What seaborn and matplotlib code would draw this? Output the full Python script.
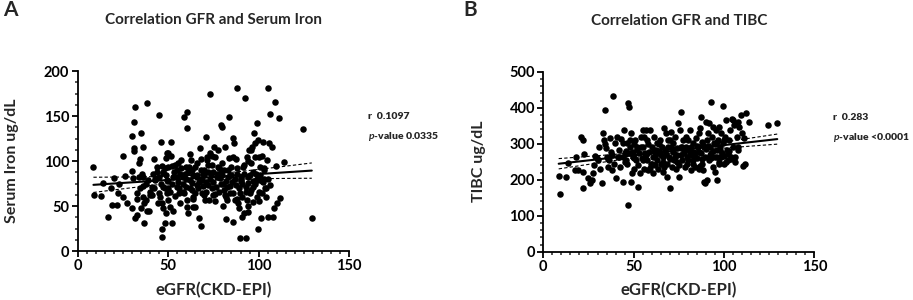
import numpy as np
import pandas as pd
import matplotlib
matplotlib.use("Agg")
import matplotlib.pyplot as plt
from matplotlib.ticker import MultipleLocator
import seaborn as sns

# ---- data (eGFR, serum iron) ----
iron_gfr = [8.7, 9.2, 12.7, 13.8, 16.6, 18.4, 18.8, 22, 22.2, 22.9, 25.3, 26, 25, 27, 20,
            30.2, 31.3, 31.7, 31.3, 31.3, 30.2, 30.8, 30.2, 31.7, 32.6, 33, 34, 34.4, 34.8, 34.4,
            35.3, 35.9, 35.9, 36.3, 36.7, 34.8, 37.6, 36.9, 38.3, 38.3, 39.6, 39, 40, 40.9, 40.9,
            41.8, 42.2, 42.9, 43.7, 44.3, 45, 45.9, 45.5, 46.4, 47, 47.4, 46.4, 47.4, 46.6, 46.8,
            48.3, 48.8, 48.7, 49.2, 50.1, 49.6, 49.2, 50.1, 50.1, 51, 51.4, 51.4, 52.5, 52, 52.9,
            53.6, 54.7, 55.6, 55.6, 56.2, 56.6, 56.6, 58, 58.6, 59.2, 59.8, 60.2, 60.6, 60.2, 60.6,
            61.2, 61.4, 62, 62.5, 63, 63.6, 64, 65, 65, 65.8, 66.1, 66.7, 67.2, 67.6, 68.1,
            68.5, 68.5, 69, 69.8, 70.4, 71, 71.3, 71.7, 72.2, 72.8, 73.2, 73.2, 73.7, 74.3, 74.6,
            75, 75.4, 76, 76.5, 76.9, 77.3, 77.8, 78.3, 78.7, 79.1, 79.6, 80.2, 80.5, 80.9, 81.5,
            81.6, 82, 82.4, 82.8, 83.3, 83.9, 83.9, 84.2, 84.6, 85.1, 86, 86, 86.4, 87, 87.3,
            87.5, 88.2, 88.2, 88.8, 89.3, 89.7, 89.7, 90.1, 90.6, 91, 91.2, 92, 92.5, 93, 93,
            93.4, 93.8, 94.3, 94.3, 94.9, 95.3, 95.6, 96.2, 96.7, 97.1, 97.5, 98, 98.6, 99, 99.3,
            99.5, 99.9, 99.9, 100.4, 100.8, 101.2, 101.7, 102.3, 102.6, 103, 103.6, 104.5, 105, 105.4, 106,
            106.3, 106.3, 107.2, 107.8, 108.5, 109, 109.4, 110, 111.5, 111.8, 114, 124.4, 129.4,
            45, 46, 47, 48, 48, 49, 50, 51, 52, 53, 54, 55, 56, 57, 58,
            59, 60, 61, 62, 63, 64, 65, 66, 67, 68, 69, 70, 71, 72, 73,
            74, 75, 76, 77, 78, 79, 80, 81, 82, 83, 84, 85, 86, 87, 88,
            89, 90, 91, 92, 93, 94, 95, 96, 97, 98, 99, 100, 101, 102, 103,
            104, 105, 42, 43, 38, 40, 36, 34, 33, 44, 52, 57, 62, 68, 74,
            80, 86, 92, 98, 102, 96, 94, 76, 82, 88, 94, 100, 104, 70, 64,
            58, 50, 45, 60, 66, 72, 78, 84, 90, 97, 103, 79, 71, 63, 55]
iron_val = [93.7, 62, 61, 76, 37.4, 70, 51, 51, 64, 74, 105.6, 83.7, 60, 53, 81,
            128, 143, 160, 115, 111, 89, 80.7, 47.4, 36.3, 40, 64, 97.4, 102, 130.7, 70,
            86, 115.9, 82.6, 60, 53, 47.4, 56.7, 31.5, 164, 44, 44, 79, 62, 71.5, 62,
            86, 102, 79, 93.7, 53, 151, 120.7, 60, 94.8, 87, 71.5, 53, 47.4, 24, 16,
            30.7, 42, 103, 108.5, 109, 79, 64, 56.7, 93.7, 49, 120.7, 105.6, 82.6, 31.5, 44.8,
            95.6, 71.5, 77, 97.4, 64, 53, 86, 82.6, 149, 86, 71.5, 154.8, 136.3, 56.7, 49,
            41.8, 93.7, 79, 101, 90, 60.4, 49, 49, 93.7, 73, 82.6, 69.6, 36.3, 115, 28,
            64, 79, 86, 90, 56.7, 127, 105, 101, 73.3, 56.7, 175, 109, 86, 95.5, 62,
            77, 116, 105, 71.5, 86, 93.7, 112, 66, 80.7, 140, 137.7, 50, 75, 90, 116,
            62, 35.5, 56.7, 71.5, 82.6, 149, 103, 64, 93.7, 77, 126, 32.6, 119.6, 56.7, 102,
            73, 181.5, 86, 53, 47.4, 14, 64, 79, 60.4, 38, 93.7, 41.8, 169.6, 14.4, 71.5,
            56.7, 105, 43.7, 82.6, 112, 64, 97.4, 116, 55, 71.5, 130.7, 119.6, 86, 60.4, 141.8,
            24.4, 123, 79, 105, 93.7, 36.3, 64, 121.5, 77, 90, 69.6, 101, 181.5, 38, 119.6,
            152.6, 73, 116, 38, 47.4, 166, 94.8, 53.7, 148, 58.5, 98.5, 135.5, 36.3,
            82, 75, 88, 70, 92, 84, 78, 66, 74, 88, 61, 82, 70, 92, 75,
            65, 80, 88, 70, 76, 84, 64, 98, 77, 90, 72, 84, 66, 96, 80,
            70, 88, 63, 82, 92, 74, 85, 68, 78, 90, 72, 84, 64, 80, 92,
            70, 82, 74, 86, 66, 76, 84, 68, 88, 74, 80, 66, 84, 78, 92,
            70, 80, 70, 80, 75, 66, 72, 82, 58, 88, 95, 101, 108, 102, 106,
            98, 104, 96, 104, 106, 112, 100, 56, 60, 58, 50, 56, 60, 62, 58,
            66, 70, 65, 93, 85, 88, 84, 84, 78, 78, 80, 90, 77, 68, 90]

# ---- data (eGFR, TIBC) ----
tibc_gfr = [8.5, 9.2, 12.5, 13.5, 17.5, 18, 19.4, 20.8, 21.8, 21.8, 22, 22.7, 25, 25.8, 26.8,
            27.3, 28.6, 29.5, 31, 32.3, 31.4, 33.2, 33.6, 34.1, 34.7, 35, 35.6, 36.5, 36.9, 37.3,
            37.8, 38.7, 39.1, 39.7, 40.2, 40.6, 41.1, 42, 42.4, 43, 43.9, 44.3, 44.8, 45.2, 45.8,
            46.1, 46.5, 46.7, 47, 47.6, 48, 48.3, 48.5, 48.9, 49.4, 49.8, 50.2, 50.7, 51.3, 51.7,
            52.2, 52.6, 53.1, 53.5, 54, 54.4, 55, 55.4, 55.7, 56.3, 56.8, 57.2, 57.6, 58.1, 58.7,
            59, 59.4, 60, 60.5, 60.9, 61.3, 61.8, 62.4, 62.7, 63.1, 63.7, 64.2, 64.6, 64.9, 65.5,
            66, 66.4, 66.8, 67.3, 67.9, 68.3, 68.6, 69.2, 69.7, 70.1, 70.5, 70.8, 71.2, 71.6, 71.9,
            72.3, 72.9, 73.4, 73.8, 74.2, 74.7, 75.1, 75.6, 76, 76.4, 76.9, 77.5, 77.9, 78.4, 79,
            79.3, 79.7, 80.3, 80.8, 81.2, 81.5, 82.1, 82.7, 83, 83.4, 83.9, 84.5, 84.9, 85.4, 86,
            86.3, 86.7, 87.1, 87.5, 87.8, 88.2, 88.6, 88.9, 89.3, 89.7, 90, 90.4, 90.8, 91.1, 91.5,
            91.9, 92.3, 92.6, 93, 93.4, 93.7, 94.1, 94.5, 94.8, 95.2, 95.6, 95.9, 96.3, 96.7, 97,
            97.4, 97.8, 98.2, 98.5, 98.9, 99.3, 99.6, 100, 100.6, 101.1, 101.5, 102, 102.6, 103.3, 103.7,
            104.2, 104.8, 105.2, 105.5, 106, 107, 107.6, 108, 108.5, 109.2, 109.8, 110.3, 111, 111.6, 112.2,
            113.8, 124.5, 129.5,
            42, 45, 48, 50, 52, 55, 57, 60, 62, 64, 66, 68, 70, 72, 74,
            76, 78, 80, 82, 84, 86, 88, 90, 92, 94, 96, 98, 100, 102, 104,
            91, 95, 99, 93, 89, 85, 81, 77, 73, 69, 65, 61, 58, 54, 50,
            46, 44, 38, 36, 34, 30, 28, 59, 67, 75, 83, 87, 97, 101, 103,
            106, 108, 64, 56, 48, 70, 79, 88, 96, 100]
tibc_val = [211, 160, 208, 247, 227, 264, 227, 319, 310, 176, 222, 271, 204, 190, 199,
            217.6, 265.7, 259, 292, 190, 231, 329, 310, 393.5, 287, 264, 236, 254.6, 315, 278,
            227, 433, 245, 301, 204, 319, 264, 282, 236, 312, 301, 194, 338, 273, 254.6,
            301, 245, 130, 412, 403, 292, 194, 329, 217.6, 264, 278, 231, 310, 254.6, 292,
            180.5, 240.7, 273, 217.6, 319, 259, 338, 292, 231, 273, 338, 254.6, 310, 227, 278,
            338, 245, 292, 217.6, 264, 319, 240.7, 282, 301, 254.6, 231, 273, 310, 245, 292,
            222, 264, 342.6, 282, 329, 245, 208, 310, 264, 176, 292, 333, 236, 278, 301,
            254.6, 319, 231, 287, 268.5, 356.5, 208, 338, 389, 292, 254.6, 310, 273, 236, 292,
            264, 245, 310, 282, 338, 227, 268.5, 301, 245, 278, 236, 315, 259, 292, 231,
            329, 342.6, 273, 375, 245, 227, 296, 194, 190, 264, 361, 310, 199, 329, 254.6,
            356.5, 292, 415, 273, 319, 236, 347, 301, 222, 264, 338, 199, 282, 310, 347,
            245, 292, 329, 264, 273, 406, 301, 245, 319, 365, 282, 254.6, 310, 338, 264,
            370, 292, 366, 352, 250, 319, 361, 292, 347, 379.6, 329, 238, 315, 245, 384,
            361, 352, 358,
            262, 250, 275, 260, 285, 255, 270, 245, 265, 280, 250, 272, 258, 285, 248,
            268, 280, 255, 290, 265, 278, 258, 285, 268, 280, 262, 282, 265, 272, 258,
            295, 300, 272, 260, 290, 295, 272, 290, 262, 290, 268, 280, 300, 290, 300,
            280, 262, 270, 258, 300, 255, 242, 232, 235, 240, 255, 238, 248, 250, 280,
            262, 282, 300, 320, 310, 310, 318, 305, 305, 310]

panels = [
    ("A", "Correlation GFR and Serum Iron", iron_gfr, iron_val, "Serum Iron ug/dL",
     200, 50, 12.5, "0.1097", "0.0335"),
    ("B", "Correlation GFR and TIBC", tibc_gfr, tibc_val, "TIBC ug/dL",
     500, 100, 20, "0.283", "<0.0001"),
]

sns.set_theme(style="ticks")
plt.rcParams['font.family'] = ['Lato', 'DejaVu Sans']
plt.rcParams['font.weight'] = 'bold'
plt.rcParams['mathtext.fontset'] = 'custom'
plt.rcParams['mathtext.bfit'] = 'Lato:italic:bold'

fig = plt.figure(figsize=(9.13, 3.0), dpi=100)
boxes = [[0.0851, 0.1633, 0.2972, 0.600], [0.5951, 0.1610, 0.2968, 0.600]]
letter_x = [3 / 913, 463 / 913]
ylab_x = [-0.216, -0.211]

for i, ((letter, title, gx, gy, ylab, ymax, ymaj, ymin_step, rtxt, ptxt), box) in enumerate(zip(panels, boxes)):
    ax = fig.add_axes(box)
    df = pd.DataFrame({"gfr": gx, "val": gy})
    sns.regplot(data=df, x="gfr", y="val", ax=ax, ci=None, color="black",
                scatter_kws=dict(s=22, linewidths=0, alpha=1),
                line_kws=dict(lw=1.5, color="black"))

    # 95% confidence band of the fit, drawn as dashed lines
    x = df["gfr"].to_numpy()
    y = df["val"].to_numpy()
    b1, b0 = np.polyfit(x, y, 1)
    n = len(x)
    resid = y - (b0 + b1 * x)
    s = np.sqrt(np.sum(resid ** 2) / (n - 2))
    xs = np.linspace(x.min(), x.max(), 100)
    se = s * np.sqrt(1 / n + (xs - x.mean()) ** 2 / np.sum((x - x.mean()) ** 2))
    yfit = b0 + b1 * xs
    ax.plot(xs, yfit + 1.97 * se, ls=(0, (3, 2)), lw=0.8, color="black")
    ax.plot(xs, yfit - 1.97 * se, ls=(0, (3, 2)), lw=0.8, color="black")

    ax.set_xlim(0, 150)
    ax.set_ylim(0, ymax)
    ax.xaxis.set_major_locator(MultipleLocator(50))
    ax.xaxis.set_minor_locator(MultipleLocator(5))
    ax.yaxis.set_major_locator(MultipleLocator(ymaj))
    ax.yaxis.set_minor_locator(MultipleLocator(ymin_step))
    ax.tick_params(which="major", length=4, width=1.3, labelsize=10.5, pad=2, colors="black")
    ax.tick_params(which="minor", length=2.5, width=1.1)
    for sp in ["left", "bottom"]:
        ax.spines[sp].set_linewidth(1.3)
        ax.spines[sp].set_color("black")
    sns.despine(ax=ax)
    for lab in ax.get_xticklabels() + ax.get_yticklabels():
        lab.set_fontweight("bold")

    ax.set_xlabel("eGFR(CKD-EPI)", fontsize=12, fontweight="bold", labelpad=6)
    ax.set_ylabel(ylab, fontsize=11.5, fontweight="bold")
    ax.yaxis.set_label_coords(ylab_x[i], 0.5)
    ax.set_title(title, fontsize=11, fontweight="bold", pad=0, y=1.26)

    fig.text(letter_x[i], 1 - 10 / 300, letter, fontsize=15, fontweight="bold",
             va="center", ha="left")
    ax.text(1.07, 0.745, "r  " + rtxt, transform=ax.transAxes, fontsize=7.5,
            fontweight="heavy", va="center")
    ax.text(1.07, 0.635, r"$\bfit{p}$" + "-value " + ptxt, transform=ax.transAxes,
            fontsize=7.5, fontweight="heavy", va="center")

fig.savefig("out.png", dpi=100)
